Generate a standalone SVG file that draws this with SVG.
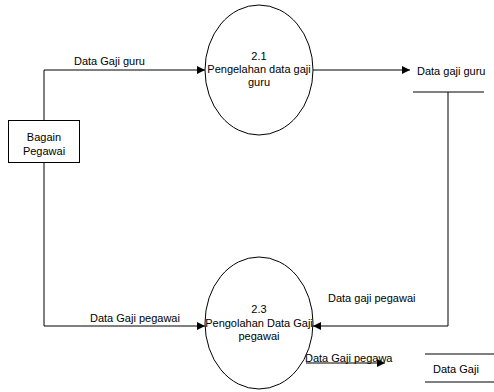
<svg xmlns="http://www.w3.org/2000/svg" width="494" height="392" viewBox="0 0 494 392">
<defs>
<marker id="arr" viewBox="0 0 8 8" refX="8" refY="4" markerWidth="8" markerHeight="8" markerUnits="userSpaceOnUse" orient="auto">
<path d="M0,0 L8,4 L0,8 Z" fill="#000"/>
</marker>
</defs>
<style>
.t{font-family:"Liberation Sans",Arial,sans-serif;font-size:11px;fill:#000}
.c{text-anchor:middle}
.ln{fill:none;stroke:#000;stroke-width:1}
.sh{fill:#fff;stroke:#000;stroke-width:1}
</style>
<rect width="494" height="392" fill="#fff"/>
<g id="connectors">
<path class="ln" d="M44,120 V70 H205" marker-end="url(#arr)"/>
<path class="ln" d="M44,162 V326 H205" marker-end="url(#arr)"/>
<path class="ln" d="M313,70 H410" marker-end="url(#arr)"/>
<path class="ln" d="M448,92 V326 H313" marker-end="url(#arr)"/>
<path class="ln" d="M306,363 H385" marker-end="url(#arr)"/>
<text class="t" x="74" y="65">Data Gaji guru</text>
<text class="t" x="90" y="322">Data Gaji pegawai</text>
<text class="t" x="328" y="302">Data gaji pegawai</text>
<text class="t" x="305" y="362">Data Gaji pegawa</text>
</g>
<g id="bagian-pegawai">
<rect class="sh" x="8.5" y="120.5" width="71" height="42"/>
<text class="t c" x="44" y="141">Bagain</text>
<text class="t c" x="44" y="155">Pegawai</text>
</g>
<g id="proses-2-1">
<ellipse class="sh" cx="259" cy="70" rx="54" ry="65"/>
<text class="t c" x="259" y="60">2.1</text>
<text class="t c" x="259" y="73">Pengelahan data gaji</text>
<text class="t c" x="259" y="86">guru</text>
</g>
<g id="proses-2-3">
<ellipse class="sh" cx="259" cy="323" rx="54" ry="66"/>
<text class="t c" x="259" y="313">2.3</text>
<text class="t c" x="259" y="327">Pengolahan Data Gaji</text>
<text class="t c" x="259" y="340">pegawai</text>
</g>
<g id="store-data-gaji-guru">
<line class="ln" x1="413" y1="92" x2="484" y2="92"/>
<text class="t" x="417" y="75">Data gaji guru</text>
</g>
<g id="store-data-gaji">
<line class="ln" x1="425" y1="354" x2="494" y2="354"/>
<line class="ln" x1="425" y1="382" x2="494" y2="382"/>
<text class="t" x="433" y="373">Data Gaji</text>
</g>
</svg>
